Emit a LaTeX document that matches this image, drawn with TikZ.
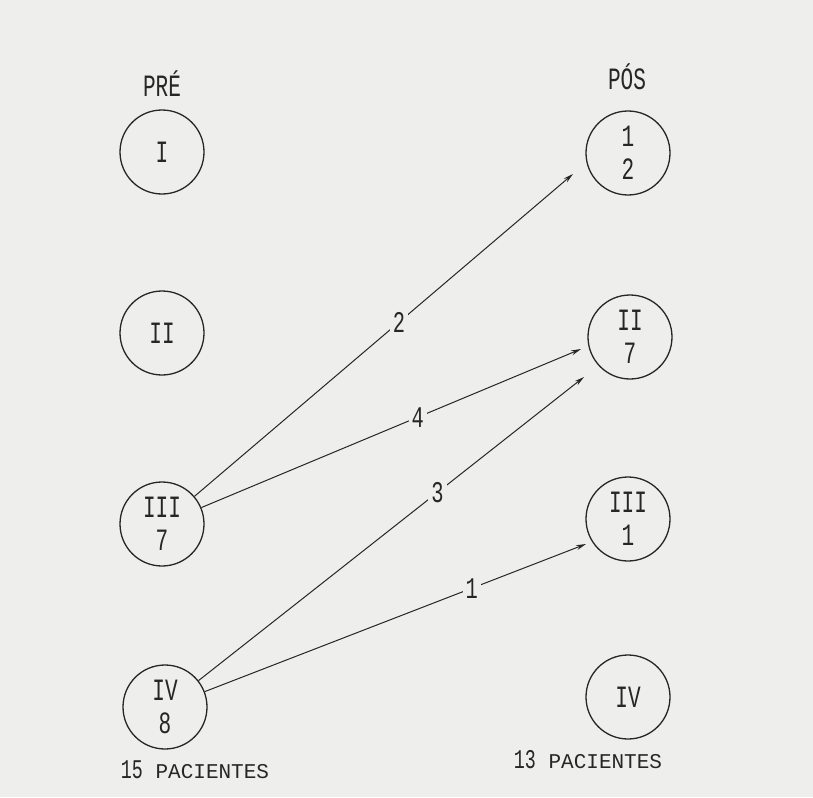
\documentclass[tikz,border=0pt]{standalone}
\usepackage{fontspec}
\usepackage{graphicx}
\setmainfont{Liberation Mono}
\usetikzlibrary{arrows.meta}
\definecolor{paper}{HTML}{EEEEEC}
\definecolor{ink}{HTML}{262626}
\newcommand{\sq}[1]{\scalebox{0.68}[1]{#1}}
\begin{document}
\begin{tikzpicture}[x=1pt,y=-1pt,
  st/.style={circle,draw=ink,line width=1.3pt,minimum size=84pt,inner sep=0pt,
    align=center,font=\fontsize{31}{33}\selectfont,text=ink},
  hd/.style={font=\fontsize{31}{33}\selectfont,text=ink},
  ft/.style={font=\fontsize{21}{24}\selectfont,text=ink},
  conn/.style={draw=ink,line width=1pt,-{Stealth[length=10pt,width=5pt]}},
  lab/.style={fill=paper,inner sep=3pt,font=\fontsize{30}{32}\selectfont,text=ink}]
\fill[paper] (0,0) rectangle (813,797);
\useasboundingbox (0,0) rectangle (813,797);
% headers
\node[hd] (pre) at (162,84) {\sq{PRÉ}};
\node[hd] (pos) at (627,77) {\sq{PÓS}};
% left column
\node[st] (L1) at (162,152) {\sq{I}};
\node[st] (L2) at (162,333) {\sq{II}};
\node[st] (L3) at (162,524) {\sq{III}\\\sq{7}};
\node[st] (L4) at (165,707) {\sq{IV}\\\sq{8}};
% right column
\node[st] (R1) at (628,153) {\sq{1}\\\sq{2}};
\node[st] (R2) at (630,337) {\sq{II}\\\sq{7}};
\node[st] (R3) at (628,519) {\sq{III}\\\sq{1}};
\node[st] (R4) at (628,697) {\sq{IV}};
% footers
\node[ft] (fl) at (195,770) {{\fontsize{27}{27}\selectfont\sq{15}} PACIENTES};
\node[ft] (fr) at (588,760) {{\fontsize{27}{27}\selectfont\sq{13}} PACIENTES};
% arrow ends
\coordinate (e1) at (573,174);
\coordinate (e2) at (581,349);
\coordinate (e3) at (584,377);
\coordinate (e4) at (586,544);
% connectors
\draw[conn] (L3) -- node[lab,pos=0.54] {\sq{2}} (e1);
\draw[conn] (L3) -- node[lab,pos=0.57] {\sq{4}} (e2);
\draw[conn] (L4) -- node[lab,pos=0.62] {\sq{3}} (e3);
\draw[conn] (L4) -- node[lab,pos=0.70] {\sq{1}} (e4);
\end{tikzpicture}
\end{document}
